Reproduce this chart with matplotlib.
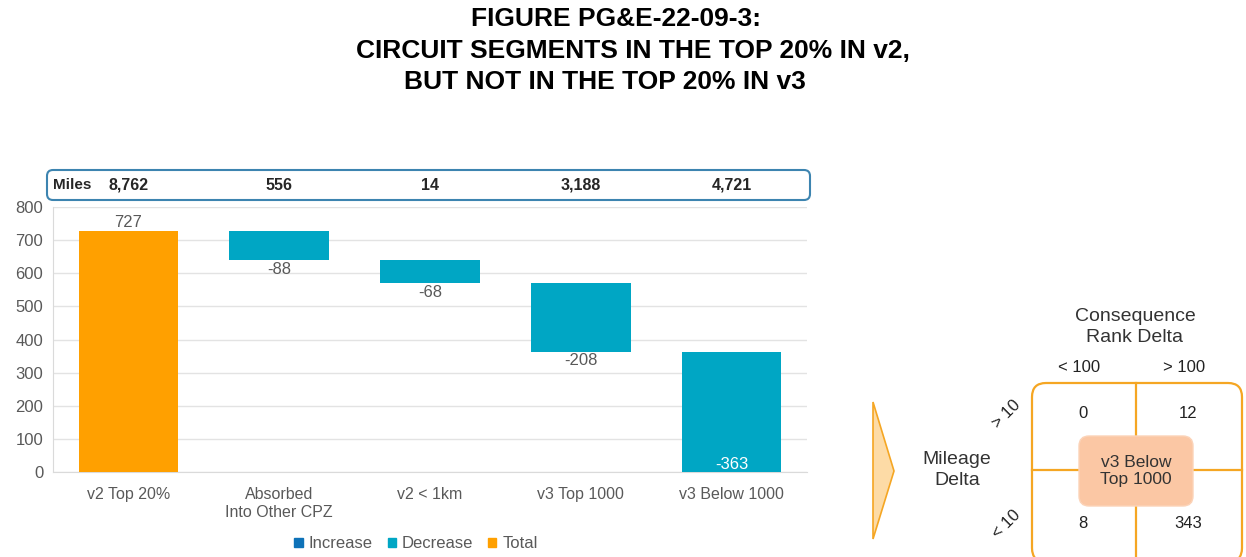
import matplotlib.pyplot as plt
import numpy as np
from matplotlib.patches import FancyBboxPatch, Patch, Polygon
from matplotlib.transforms import blended_transform_factory

plt.rcParams['font.family'] = ['Liberation Sans', 'DejaVu Sans']

# waterfall data
categories = ['v2 Top 20%', 'Absorbed\nInto Other CPZ', 'v2 < 1km', 'v3 Top 1000', 'v3 Below 1000']
start_total = 727
changes = [-88, -68, -208, -363]
miles = ['8,762', '556', '14', '3,188', '4,721']

# consequence / mileage breakdown of "v3 Below Top 1000"
rank_bins = ['< 100', '> 100']
mileage_bins = ['> 10', '< 10']
quadrant_counts = [[0, 12], [8, 343]]

ORANGE = '#FFA000'
TEAL = '#00A6C4'
BLUE = '#0E72B8'
GRAY_TXT = '#595959'
DIAG = '#F5A623'

fig = plt.figure(figsize=(12.46, 5.57), dpi=100)

# overlay axes in pixel units for the boxes and the side diagram
ov = fig.add_axes([0, 0, 1, 1], zorder=0)
ov.set_xlim(0, 1246)
ov.set_ylim(557, 0)
ov.axis('off')
ov.patch.set_alpha(0)

ax = fig.add_axes([53 / 1246, 85 / 557, 754 / 1246, 265 / 557], zorder=1)
ax.patch.set_alpha(0)

heights = [start_total] + changes
bottoms = [0]
level = start_total
for c in changes:
    bottoms.append(level + c)
    level += c
bar_h = [start_total] + [-c for c in changes]
colors = [ORANGE] + [TEAL] * len(changes)
x = np.arange(len(categories))
ax.bar(x, bar_h, bottom=bottoms, width=0.66, color=colors, zorder=3)

for i, (v, b, h) in enumerate(zip(heights, bottoms, bar_h)):
    if v > 0:
        ax.text(i, b + h + 3, f'{v}', ha='center', va='bottom', fontsize=12, color=GRAY_TXT)
    elif b <= 0:
        ax.text(i, b + 1, f'{v}', ha='center', va='bottom', fontsize=12, color='white')
    else:
        ax.text(i, b - 5, f'{v}', ha='center', va='top', fontsize=12, color=GRAY_TXT)

ax.set_xlim(-0.5, len(categories) - 0.5)
ax.set_ylim(0, 800)
ax.set_yticks(range(0, 801, 100))
ax.grid(axis='y', color='#E3E3E3', lw=1, zorder=0)
ax.set_xticks(x)
ax.set_xticklabels(categories, linespacing=1.25)
ax.tick_params(axis='x', length=0, pad=11, labelsize=11.5, labelcolor=GRAY_TXT)
ax.tick_params(axis='y', length=0, pad=7, labelsize=12, labelcolor=GRAY_TXT)
for s in ['top', 'right']:
    ax.spines[s].set_visible(False)
for s in ['left', 'bottom']:
    ax.spines[s].set_color('#DADADA')

# miles strip above the plot
ov.add_patch(FancyBboxPatch((47, 170), 763, 30, boxstyle='round,pad=0,rounding_size=6',
                            fc='white', ec='#3D84B0', lw=1.5))
tr = blended_transform_factory(ax.transData, ax.transAxes)
ax.text(-0.5, 1.083, 'Miles', transform=tr, ha='left', va='center',
        fontsize=11, fontweight='bold', color='#262626')
for i, m in enumerate(miles):
    ax.text(i, 1.083, m, transform=tr, ha='center', va='center',
            fontsize=11.5, fontweight='bold', color='#262626')

fig.legend(handles=[Patch(color=BLUE, label='Increase'),
                    Patch(color=TEAL, label='Decrease'),
                    Patch(color=ORANGE, label='Total')],
           loc='center', bbox_to_anchor=(416 / 1246, 1 - 544 / 557), ncol=3, frameon=False,
           handlelength=0.5, handleheight=0.5, handletextpad=0.35, columnspacing=0.9,
           fontsize=12, labelcolor=GRAY_TXT)

# title
ov.text(616, 19, 'FIGURE PG&E-22-09-3:', ha='center', va='center', fontsize=19, fontweight='bold')
ov.text(633, 51, 'CIRCUIT SEGMENTS IN THE TOP 20% IN v2,', ha='center', va='center',
        fontsize=19, fontweight='bold')
ov.text(605, 82, 'BUT NOT IN THE TOP 20% IN v3', ha='center', va='center', fontsize=19, fontweight='bold')

# side diagram
ov.add_patch(Polygon([(873, 402), (894, 471), (873, 539)], closed=True, fc='#FDDBA6', ec=DIAG, lw=1.2))
ov.text(957, 470, 'Mileage\nDelta', ha='center', va='center', fontsize=14, color='#333333',
        linespacing=1.35)
ov.text(1135, 327, 'Consequence\nRank Delta', ha='center', va='center', fontsize=14, color='#333333',
        linespacing=1.35)

gx0, gx1, gy0, gy1 = 1032, 1242, 383, 562
mx, my = 1136, 470
ov.add_patch(FancyBboxPatch((gx0, gy0), gx1 - gx0, gy1 - gy0, boxstyle='round,pad=0,rounding_size=14',
                            fc='white', ec=DIAG, lw=1.6))
ov.plot([mx, mx], [gy0, gy1], color=DIAG, lw=1.6)
ov.plot([gx0, gx1], [my, my], color=DIAG, lw=1.6)
ov.add_patch(FancyBboxPatch((1079, 436), 114, 70, boxstyle='round,pad=0,rounding_size=10',
                            fc='#FBC7A4', ec='#FBD3B8', lw=1, zorder=3))
ov.text(mx, my + 1, 'v3 Below\nTop 1000', ha='center', va='center', fontsize=12.5, color='#333333',
        linespacing=1.2, zorder=4)

col_x = [1083, 1188]
row_y = [414, 524]
for j, lab in enumerate(rank_bins):
    ov.text(col_x[j] - 4, 367, lab, ha='center', va='center', fontsize=12, color='#222222')
for i, lab in enumerate(mileage_bins):
    ov.text(1006, row_y[i], lab, ha='center', va='center',
            fontsize=12, color='#222222', rotation=45)
    for j in range(2):
        ov.text(col_x[j], row_y[i], f'{quadrant_counts[i][j]}', ha='center', va='center',
                fontsize=12, color='#222222')

fig.savefig('out.png', dpi=100)
